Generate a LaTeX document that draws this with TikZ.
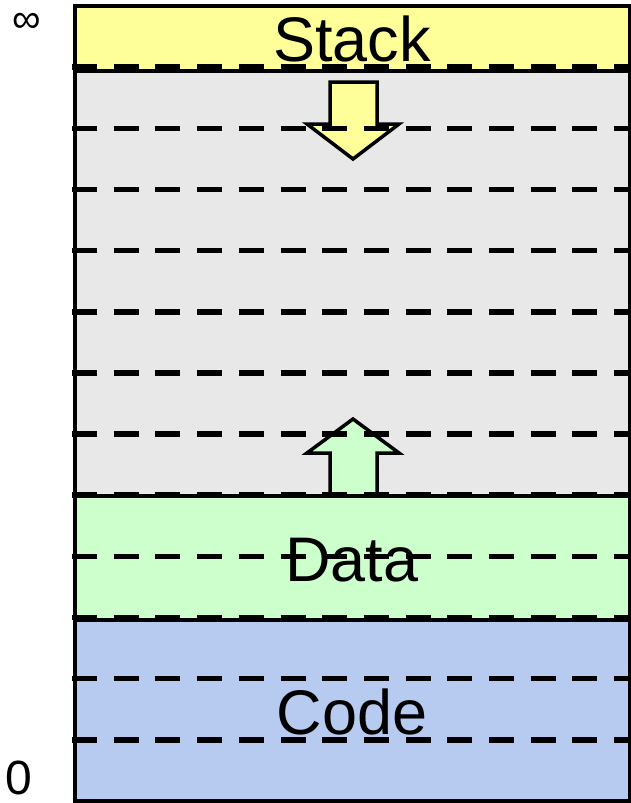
\documentclass[tikz,border=0pt]{standalone}
\usepackage{fontspec}
\setmainfont{Liberation Sans}
\definecolor{stackc}{RGB}{255,255,153}
\definecolor{freec}{RGB}{232,232,232}
\definecolor{datac}{RGB}{204,255,204}
\definecolor{codec}{RGB}{183,203,241}
\begin{document}
\begin{tikzpicture}[x=1pt,y=-1pt,
  seglabel/.style={anchor=base,inner sep=0pt,font=\fontsize{63}{70}\selectfont},
  axislabel/.style={inner sep=0pt,font=\fontsize{48}{54}\selectfont},
  gridline/.style={line width=5.5pt,dash pattern=on 25pt off 16.7pt},
  sepline/.style={line width=4pt},
  growarrow/.style={draw=black,line width=3.5pt,line join=miter}]
\useasboundingbox (0,0) rectangle (631,803);
% regions
\fill[stackc] (74.5,6) rectangle (629.5,71);
\fill[freec] (74.5,71) rectangle (629.5,496);
\fill[datac] (74.5,496) rectangle (629.5,620);
\fill[codec] (74.5,620) rectangle (629.5,801);
% growth arrows
\filldraw[growarrow,fill=stackc] (330,82) -- (377,82) -- (377,124) -- (399,124) -- (353,159) -- (307,124) -- (330,124) -- cycle;
\filldraw[growarrow,fill=datac] (330,496) -- (330,453) -- (307,453) -- (353,419) -- (399,453) -- (377,453) -- (377,496);
% labels
\node[seglabel] (stack) at (352,61) {Stack};
\node[seglabel] (data) at (352,581) {Data};
\node[seglabel] (code) at (352,734) {Code};
\node[axislabel,anchor=base] (zero) at (19,794) {0};
\node[axislabel,anchor=center,font=\fontsize{40}{46}\selectfont] (inf) at (27,22.5) {∞};
% dashed grid
\foreach \k in {1,...,12}{
  \draw[gridline] (72,{6+\k*61.15}) -- (629.5,{6+\k*61.15});
}
% separators
\draw[sepline] (74.5,71) -- (629.5,71);
\draw[sepline] (74.5,496) -- (629.5,496);
\draw[sepline] (74.5,620) -- (629.5,620);
% border
\draw[line width=4pt] (74.5,6) rectangle (629.5,801);
\end{tikzpicture}
\end{document}
